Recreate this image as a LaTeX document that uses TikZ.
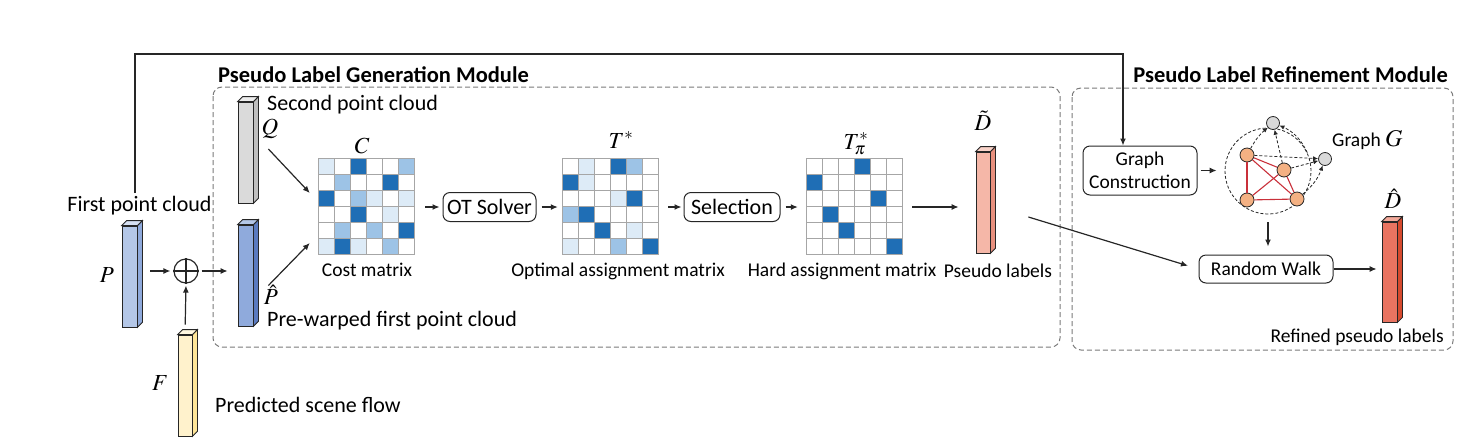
\documentclass[tikz,border=0pt]{standalone}
\usepackage{amsmath}
\usepackage{mathptmx}
\usepackage{fontspec}
\setmainfont{Carlito}
\usetikzlibrary{arrows.meta}
\pgfdeclarelayer{bg}
\pgfsetlayers{bg,main}

\definecolor{linec}{HTML}{262626}
\definecolor{boxc}{HTML}{7A7A7A}
\definecolor{gridc}{HTML}{A6A6A6}
\definecolor{cell0}{HTML}{FFFFFF}
\definecolor{cell1}{HTML}{DDEBF7}
\definecolor{cell2}{HTML}{9DC3E6}
\definecolor{cell3}{HTML}{1F6EB5}
\definecolor{pfront}{HTML}{B4C7E7}
\definecolor{pside}{HTML}{8EA9DB}
\definecolor{ptop}{HTML}{D6E0F2}
\definecolor{phfront}{HTML}{8FAADC}
\definecolor{phside}{HTML}{5B7BC0}
\definecolor{phtop}{HTML}{B4C7E7}
\definecolor{qfront}{HTML}{DADADA}
\definecolor{qside}{HTML}{BFBFBF}
\definecolor{qtop}{HTML}{EDEDED}
\definecolor{ffront}{HTML}{FFF2CC}
\definecolor{fside}{HTML}{FFE699}
\definecolor{ftop}{HTML}{FFF8E1}
\definecolor{dtfront}{HTML}{F5B7A8}
\definecolor{dtside}{HTML}{E8907E}
\definecolor{dttop}{HTML}{F9D3C9}
\definecolor{dhfront}{HTML}{E97461}
\definecolor{dhside}{HTML}{D64A2E}
\definecolor{dhtop}{HTML}{F3A99A}
\definecolor{orangec}{HTML}{F4B183}
\definecolor{grayc}{HTML}{D9D9D9}
\definecolor{rededge}{HTML}{C9303A}

\tikzset{
  arr/.style={draw=linec, line width=1.2pt, -{Latex[length=7pt,width=6pt]}},
  bar/.style={draw=linec, line width=0.8pt},
  colfront/.style={bar, inner sep=0pt, minimum width=15pt, minimum height=101pt},
  gridbox/.style={inner sep=0pt, minimum width=96pt, minimum height=96pt},
  gridline/.style={draw=gridc, line width=0.9pt},
  modbox/.style={draw=boxc, line width=1pt, dash pattern=on 5pt off 3pt, rounded corners=9pt},
  procbox/.style={draw=linec, line width=1pt, rounded corners=7pt, inner sep=0pt},
  lbl/.style={inner sep=0pt, font=\fontsize{22}{26}\selectfont},
  slbl/.style={inner sep=0pt, font=\fontsize{19.5}{23}\selectfont},
  mlbl/.style={inner sep=0pt, font=\fontsize{23}{27}\selectfont},
  ttl/.style={inner sep=0pt, font=\fontsize{22.5}{26}\selectfont\bfseries},
  vnode/.style={circle, draw=linec, line width=0.8pt, fill=orangec, minimum size=14pt, inner sep=0pt},
  gnode/.style={vnode, fill=grayc, minimum size=13pt},
  redge/.style={draw=rededge, line width=1.1pt},
  dedge/.style={draw=linec, line width=0.8pt, dash pattern=on 3pt off 2pt, -{Latex[length=5pt,width=4.5pt]}},
}

% side and top faces of a column
\newcommand{\colfaces}[3]{%
  \draw[bar, fill=#2] (#1.north east) -- ++(5,-5) -- ([shift={(5,-5)}]#1.south east) -- (#1.south east) -- cycle;
  \draw[bar, fill=#3] (#1.north west) -- ++(5,-5) -- ([shift={(5,-5)}]#1.north east) -- (#1.north east) -- cycle;}

% 6x6 matrix of cells inside a grid node
\newcommand{\drawgrid}[2]{%
  \foreach \row [count=\i] in {#2} {
    \foreach \v [count=\j] in \row {
      \draw[gridline, fill=cell\v] ([shift={(\j*16-16,\i*16-16)}]#1.north west) rectangle ++(16,16);
    }
  }}

\begin{document}
\begin{tikzpicture}[x=1pt, y=-1pt]
        \useasboundingbox (0,0) rectangle (1468,445);
        % module frames
        \begin{pgfonlayer}{bg}
                \draw[modbox] (213,87) rectangle (1060,347);
                \draw[modbox] (1072,88) rectangle (1453,350);
        \end{pgfonlayer}
        \node[ttl, anchor=west] (gentitle) at (218,75) {Pseudo Label Generation Module};
        \node[ttl, anchor=east] (reftitle) at (1448,75) {Pseudo Label Refinement Module};

        % columns
        \node[colfront, fill=pfront] (P) at (129.5,276.5) {};
        \node[colfront, fill=phfront] (Ph) at (245.5,275.5) {};
        \node[colfront, fill=qfront] (Q) at (245.5,152.5) {};
        \node[colfront, fill=ffront, minimum width=14pt] (F) at (185,385.5) {};
        \node[colfront, fill=dtfront, minimum width=14pt] (Dt) at (983,202.5) {};
        \node[colfront, fill=dhfront, minimum height=100pt] (Dh) at (1389.5,272) {};
        \colfaces{P}{pside}{ptop}
        \colfaces{Ph}{phside}{phtop}
        \colfaces{Q}{qside}{qtop}
        \colfaces{F}{fside}{ftop}
        \colfaces{Dt}{dtside}{dttop}
        \colfaces{Dh}{dhside}{dhtop}

        \node[mlbl] (Plbl) at (107,275) {$P$};
        \node[mlbl] (Flbl) at (160,383) {$F$};
        \node[mlbl] (Qlbl) at (270,129) {$Q$};
        \node[mlbl] (Phlbl) at (271,295) {$\hat{P}$};
        \node[mlbl] (Dtlbl) at (983,121) {$\tilde{D}$};
        \node[mlbl] (Dhlbl) at (1393,199) {$\hat{D}$};

        \node[lbl] (fpc) at (139.5,206) {First point cloud};
        \node[lbl, anchor=west] (spc) at (267,105) {Second point cloud};
        \node[lbl, anchor=west] (pwc) at (267,321) {Pre-warped first point cloud};
        \node[lbl, anchor=west] (psf) at (215,405) {Predicted scene flow};

        % warping
        \node[circle, draw=linec, line width=1.2pt, minimum size=24pt, inner sep=0pt] (op) at (186,271) {};
        \draw[linec, line width=1.2pt] (op.north) -- (op.south) (op.west) -- (op.east);

        % matrices
        \node[gridbox] (C) at (367,207) {};
        \node[gridbox] (T) at (611,207) {};
        \node[gridbox] (Tp) at (855,207) {};
        \drawgrid{C}{{1,0,3,0,0,2},{0,2,0,0,3,0},{3,0,2,1,0,1},{0,0,3,0,1,0},{0,2,0,2,0,3},{1,3,1,0,2,0}}
        \drawgrid{T}{{0,1,0,3,2,0},{3,1,0,0,0,0},{0,0,0,1,3,0},{2,3,0,0,0,0},{0,0,3,0,1,0},{1,0,0,2,0,3}}
        \drawgrid{Tp}{{0,0,0,3,0,0},{3,0,0,0,0,0},{0,0,0,0,3,0},{0,3,0,0,0,0},{0,0,3,0,0,0},{0,0,0,0,0,3}}
        \node[mlbl] (Clbl) at (362,146) {$C$};
        \node[mlbl] (Tlbl) at (621,140) {$T^{*}$};
        \node[mlbl] (Tplbl) at (856,144) {$T^{*}_{\pi}$};
        \node[slbl] (cml) at (367,270) {Cost matrix};
        \node[slbl] (oml) at (618,271) {Optimal assignment matrix};
        \node[slbl] (hml) at (842,271) {Hard assignment matrix};
        \node[slbl] (pll) at (998,271) {Pseudo labels};

        \node[procbox, minimum width=93pt, minimum height=29pt, font=\fontsize{22}{26}\selectfont] (ot) at (489.5,207) {OT Solver};
        \node[procbox, minimum width=96pt, minimum height=29pt, font=\fontsize{22}{26}\selectfont] (sel) at (732,207) {Selection};

        % refinement
        \node[procbox, minimum width=114pt, minimum height=49pt, align=center, font=\fontsize{19.5}{23}\selectfont] (gc) at (1140,170.5) {Graph\\Construction};
        \node[procbox, minimum width=134pt, minimum height=28pt, font=\fontsize{19.5}{23}\selectfont] (rw) at (1266,269) {Random Walk};
        \node[slbl, anchor=west] (gg) at (1332,140) {Graph \fontsize{24}{28}\selectfont$G$};
        \node[slbl, anchor=east] (rpl) at (1444,337) {Refined pseudo labels};

        \node[circle, draw=linec, line width=0.8pt, dash pattern=on 3pt off 2pt, minimum size=86pt, inner sep=0pt] (gcirc) at (1268,171) {};
        \node[vnode] (va) at (1247,155) {};
        \node[vnode] (vb) at (1284,170) {};
        \node[vnode] (vc) at (1247,200) {};
        \node[vnode] (vd) at (1297,199) {};
        \node[gnode] (g1) at (1273,123) {};
        \node[gnode] (g2) at (1325,159) {};
        \draw (va) edge [redge] (vb);
        \draw (va) edge [redge] (vc);
        \draw (va) edge [redge] (vd);
        \draw (vb) edge [redge] (vc);
        \draw (vb) edge [redge] (vd);
        \draw (vc) edge [redge] (vd);
        \draw (va) edge [dedge, bend left=10] (g1);
        \draw (vb) edge [dedge] (g1);
        \draw (va) edge [dedge] (g2);
        \draw (vb) edge [dedge] (g2);
        \draw (vd) edge [dedge, bend right=15] (g2);
        \draw (gcirc.25) edge [dedge, bend right=20] (g1);

        % connectors
        \draw[arr, shorten <=13pt, shorten >=3pt] (P.east |- op) -- (op.west);
        \draw[arr, shorten <=3pt, shorten >=10pt] (op.east) -- (op -| Ph.west);
        \draw[arr, shorten <=10pt, shorten >=2pt] (F.north) -- (op.south);
        \draw[arr] ([shift={(15,-3.5)}]Q.east) -- ([shift={(-9,-14)}]C.west);
        \draw[arr] ([shift={(15,10)}]Ph.east) -- ([shift={(-9,36)}]C.west);
        \draw[arr, shorten <=10pt, shorten >=3pt] (C.east) -- (ot.west);
        \draw[arr, shorten <=5pt, shorten >=5pt] (ot.east) -- (T.west);
        \draw[arr, shorten <=9pt, shorten >=2pt] (T.east) -- (sel.west);
        \draw[arr, shorten <=5pt, shorten >=9pt] (sel.east) -- (Tp.west);
        \draw[arr, shorten <=9pt, shorten >=17pt] (Tp.east) -- (Tp.east -| Dt.west);
        \draw[arr, shorten >=11pt] ([shift={(38,14.5)}]Dt.east) -- (rw.west);
        \coordinate (fb0) at (135,193);
        \coordinate (fb1) at (135,54);
        \draw[arr] (fb0) -- (fb1) -| ([xshift=-17pt]gc.north);
        \draw[arr, shorten <=3pt, shorten >=8pt] (gc.east) -- (gc.east -| gcirc.west);
        \draw[arr, shorten <=8pt, shorten >=8pt] (gcirc.south) -- (gcirc.south |- rw.north);
        \draw[arr, shorten >=5pt] (rw.east) -- (rw.east -| Dh.west);
\end{tikzpicture}
\end{document}
